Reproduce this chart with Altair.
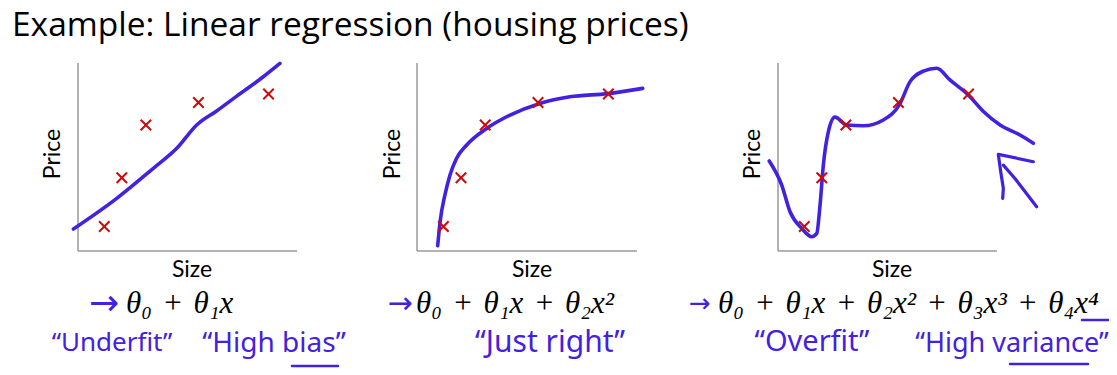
import altair as alt
import pandas as pd

# ---------------- data ----------------
sizes = [1.2, 2.0, 3.1, 5.5, 8.7]
prices = [1.3, 3.9, 6.7, 7.9, 8.35]

fit1_x = [-0.21, 1.77, 3.44, 4.51, 5.42, 6.33, 7.25, 8.46, 9.22]
fit1_y = [1.17, 2.80, 4.40, 5.46, 6.70, 7.45, 8.24, 9.27, 9.98]

fit2_x = [0.94, 1.05, 1.27, 1.50, 1.80, 2.26, 3.17, 4.23, 5.59, 6.95, 8.66, 10.26]
fit2_y = [0.28, 1.56, 2.98, 4.04, 4.93, 5.64, 6.52, 7.23, 7.85, 8.20, 8.37, 8.65]

fit3_x = [-0.40, 0.17, 0.55, 1.08, 1.54, 1.77, 1.92, 2.07, 2.30, 2.60, 3.14, 3.90,
          4.81, 5.54, 6.03, 6.64, 7.25, 7.85, 8.69, 9.38, 10.14, 11.05, 11.66]
fit3_y = [4.79, 3.51, 2.09, 1.21, 0.76, 0.94, 2.45, 4.57, 6.35, 7.12, 6.70, 6.66,
          6.97, 7.77, 9.01, 9.57, 9.72, 9.10, 8.30, 7.42, 6.70, 6.17, 5.73]

arrow_a_x = [11.66, 10.06, 10.17, 10.29, 10.26]
arrow_a_y = [4.75, 5.14, 4.22, 3.33, 2.80]
arrow_b_x = [10.29, 10.82, 11.81]
arrow_b_y = [4.57, 3.86, 2.35]

axis_extent = [0, 10]

title_text = "Example: Linear regression (housing prices)"
x_title = "Size"
y_title = "Price"
SP = "\u2004"
formulas = [
    f"θ₀{SP}+{SP}θ₁x",
    f"θ₀{SP}+{SP}θ₁x{SP}+{SP}θ₂x²",
    f"θ₀{SP}+{SP}θ₁x{SP}+{SP}θ₂x²{SP}+{SP}θ₃x³{SP}+{SP}θ₄x⁴",
]
notes = ["\u201cUnderfit\u201d", "\u201cHigh bias\u201d", "\u201cJust right\u201d",
         "\u201cOverfit\u201d", "\u201cHigh variance\u201d"]

# ---------------- styles ----------------
W, H = 1117, 375
BLUE = "#4321e0"
RED = "#cc0a0a"
AXIS = "#9a9a9a"
panel_x_ranges = [[78, 297], [417, 637], [778, 997]]
panel_y_range = [251, 63]
CROSS = "M-1,-1L1,1M-1,1L1,-1"


def panel(i, fx, fy, extra=None):
    xs = alt.Scale(domain=axis_extent, range=panel_x_ranges[i], nice=False, zero=False)
    ys = alt.Scale(domain=axis_extent, range=panel_y_range, nice=False, zero=False)
    axes_df = pd.DataFrame({
        "x": [axis_extent[0], axis_extent[0]],
        "x2": [axis_extent[1], axis_extent[0]],
        "y": [axis_extent[0], axis_extent[0]],
        "y2": [axis_extent[0], axis_extent[1]],
    })
    axes = alt.Chart(axes_df).mark_rule(color=AXIS, strokeWidth=1.5).encode(
        x=alt.X("x:Q", scale=xs, axis=None), x2="x2:Q",
        y=alt.Y("y:Q", scale=ys, axis=None), y2="y2:Q",
    )
    curve = alt.Chart(pd.DataFrame({"x": fx, "y": fy, "i": range(len(fx))})).mark_line(
        color=BLUE, strokeWidth=3.6, interpolate="monotone", strokeCap="round"
    ).encode(
        x=alt.X("x:Q", scale=xs, axis=None),
        y=alt.Y("y:Q", scale=ys, axis=None),
        order="i:Q",
    )
    pts = alt.Chart(pd.DataFrame({"x": sizes, "y": prices})).mark_point(
        shape=CROSS, size=110, color=RED, strokeWidth=2, filled=False, opacity=1
    ).encode(
        x=alt.X("x:Q", scale=xs, axis=None),
        y=alt.Y("y:Q", scale=ys, axis=None),
    )
    layers = [axes, curve, pts]
    if extra:
        for ex, ey in extra:
            layers.append(
                alt.Chart(pd.DataFrame({"x": ex, "y": ey, "i": range(len(ex))})).mark_line(
                    color=BLUE, strokeWidth=3.2, interpolate="linear", strokeCap="round",
                    strokeJoin="round"
                ).encode(
                    x=alt.X("x:Q", scale=xs, axis=None),
                    y=alt.Y("y:Q", scale=ys, axis=None),
                    order="i:Q",
                )
            )
    return alt.layer(*layers)


def label(text, x, y, size, color="black", font="Lato", align="left",
          baseline="alphabetic", angle=0, style="normal"):
    return alt.Chart(pd.DataFrame({"t": [text]})).mark_text(
        align=align, baseline=baseline, font=font, fontSize=size, color=color,
        angle=angle, fontStyle=style,
    ).encode(text="t:N", x=alt.value(x), y=alt.value(y))


def stroke(x1, x2, y, w=2.5):
    return alt.Chart(pd.DataFrame({"a": [0]})).mark_rule(
        color=BLUE, strokeWidth=w, strokeCap="round"
    ).encode(x=alt.value(x1), x2=alt.value(x2), y=alt.value(y))


p1 = panel(0, fit1_x, fit1_y)
p2 = panel(1, fit2_x, fit2_y)
p3 = panel(2, fit3_x, fit3_y, extra=[(arrow_a_x, arrow_a_y), (arrow_b_x, arrow_b_y)])

texts = [label(title_text, 12, 36, 33.5, font="Open Sans")]
for cx in [53, 393, 753]:
    texts.append(label(y_title, cx, 154, 23, angle=270, align="center", baseline="middle"))
for cx in [192, 532, 892]:
    texts.append(label(x_title, cx, 277, 23, align="center"))

fx_left = [126, 416, 718]
for f, lx in zip(formulas, fx_left):
    texts.append(label(f, lx, 313, 31, font="Liberation Serif", style="italic"))

for ax, sz in [(104, 36), (400, 30), (700, 26)]:
    texts.append(label("→", ax, 304, sz, color=BLUE, font="DejaVu Sans", align="center",
                       baseline="middle"))

note_specs = [(112, 351, 26), (274, 352, 28), (550, 352, 30), (812, 351, 29), (1012, 352, 27)]
for n, (cx, cy, sz) in zip(notes, note_specs):
    texts.append(label(n, cx, cy, sz, color=BLUE, font="Noto Sans", align="center"))

strokes = [stroke(292, 338, 366), stroke(1082, 1108, 320), stroke(1010, 1088, 364)]

chart = alt.layer(p1, p2, p3, *texts, *strokes).resolve_scale(
    x="independent", y="independent"
).properties(
    width=W, height=H, autosize=alt.AutoSizeParams(type="none"), padding=0,
    background="white",
).configure_view(stroke=None)

chart.save("out.html", embed_options={"renderer": "svg", "actions": False})
